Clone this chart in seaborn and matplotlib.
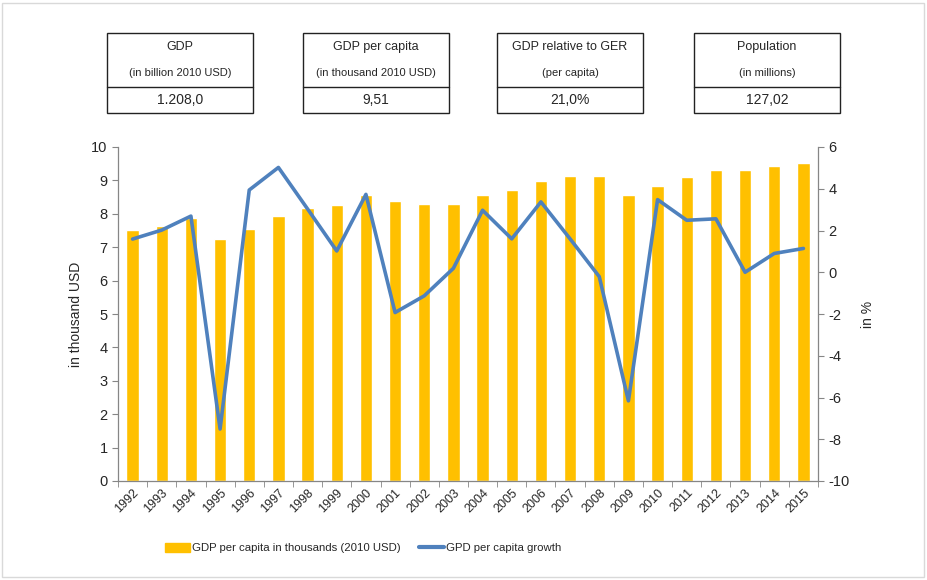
import numpy as np
import pandas as pd
import seaborn as sns
import matplotlib
matplotlib.use("Agg")
from matplotlib import pyplot as plt
from matplotlib.patches import Patch, Rectangle
from matplotlib.lines import Line2D

# data
years = [str(y) for y in range(1992, 2016)]
gdp_pc = [7.51, 7.64, 7.86, 7.25, 7.55, 7.93, 8.16, 8.26, 8.55, 8.37, 8.30, 8.30,
          8.56, 8.70, 8.99, 9.13, 9.13, 8.56, 8.84, 9.09, 9.31, 9.31, 9.42, 9.52]
growth = [1.59, 2.02, 2.69, -7.51, 3.94, 5.02, 3.03, 1.02, 3.73, -1.93, -1.13, 0.19,
          2.97, 1.60, 3.37, 1.60, -0.21, -6.16, 3.48, 2.49, 2.56, 0.0, 0.90, 1.14]

box_titles = ["GDP", "GDP per capita", "GDP relative to GER", "Population"]
box_units = ["(in billion 2010 USD)", "(in thousand 2010 USD)", "(per capita)", "(in millions)"]
box_values = ["1.208,0", "9,51", "21,0%", "127,02"]

bar_label = "GDP per capita in thousands (2010 USD)"
line_label = "GPD per capita growth"

BAR = "#FFC000"
LINE = "#4F81BD"
GRID = "#868686"

sns.set_style("white")
plt.rcParams['font.family'] = ['Liberation Sans', 'DejaVu Sans']
plt.rcParams['axes.unicode_minus'] = False

df = pd.DataFrame({"year": years, "gdp": gdp_pc, "growth": growth})
df["pos"] = np.arange(len(df))

W, H = 927, 580
fig = plt.figure(figsize=(W / 100, H / 100), dpi=100)

def fx(px):
    return px / W

def fy(py):
    return 1 - py / H

# main axes
ax = fig.add_axes([fx(118), fy(481), fx(700), 334 / H])
sns.barplot(data=df, x="pos", y="gdp", color=BAR, width=0.42, ax=ax,
            saturation=1, native_scale=True)
ax.set_xlim(-0.5, len(df) - 0.5)
ax.set_ylim(0, 10)
ax.set_yticks(range(0, 11))
ax.set_xticks(df["pos"])
ax.set_xticklabels(df["year"], rotation=45, ha="right", rotation_mode="anchor", fontsize=9)
ax.set_xticks(np.arange(-0.5, len(df), 1), minor=True)
ax.tick_params(axis="x", which="major", length=0, pad=4)
ax.tick_params(axis="x", which="minor", length=4, color=GRID, direction="out", bottom=True)
ax.tick_params(axis="y", length=4, color=GRID, direction="out", left=True, labelsize=10.5)
ax.set_xlabel("")
ax.set_ylabel("in thousand USD", fontsize=10, labelpad=6)
for s in ["top", "right"]:
    ax.spines[s].set_visible(False)
for s in ["left", "bottom"]:
    ax.spines[s].set_color(GRID)
    ax.spines[s].set_linewidth(0.9)

ax2 = ax.twinx()
sns.lineplot(data=df, x="pos", y="growth", color=LINE, lw=2.6, ax=ax2)
ax2.set_ylim(-10, 6)
ax2.set_yticks(range(-10, 7, 2))
ax2.set_xlim(-0.5, len(df) - 0.5)
ax2.tick_params(axis="y", length=4, color=GRID, direction="out", right=True, labelsize=10.5)
ax2.set_ylabel("in %", fontsize=10, labelpad=8)
for s in ["top", "left", "bottom"]:
    ax2.spines[s].set_visible(False)
ax2.spines["right"].set_color(GRID)
ax2.spines["right"].set_linewidth(0.9)

# info boxes on top
box_x = [107, 303, 497, 694]
for x0, t, u, v in zip(box_x, box_titles, box_units, box_values):
    fig.add_artist(Rectangle((fx(x0), fy(113)), fx(146), 80 / H, transform=fig.transFigure,
                             fill=False, edgecolor="#222222", lw=1))
    fig.add_artist(Line2D([fx(x0), fx(x0 + 146)], [fy(87), fy(87)], transform=fig.transFigure,
                          color="#222222", lw=1))
    cx = fx(x0 + 73)
    fig.text(cx, fy(47), t, ha="center", va="center", fontsize=9)
    fig.text(cx, fy(73), u, ha="center", va="center", fontsize=8)
    fig.text(cx, fy(100), v, ha="center", va="center", fontsize=10)

# outer frame
fig.add_artist(Rectangle((fx(2), fy(577)), fx(922), 574 / H, transform=fig.transFigure,
                         fill=False, edgecolor="#D9D9D9", lw=1))

handles = [Patch(color=BAR, label=bar_label),
           Line2D([0], [0], color=LINE, lw=3, label=line_label)]
fig.legend(handles=handles, loc="center", bbox_to_anchor=(fx(363), fy(548)), ncol=2,
           frameon=False, fontsize=8.2, handlelength=2.2, handleheight=0.9,
           columnspacing=1.6, handletextpad=0.2)

fig.savefig("out.png", dpi=100, facecolor="white")
